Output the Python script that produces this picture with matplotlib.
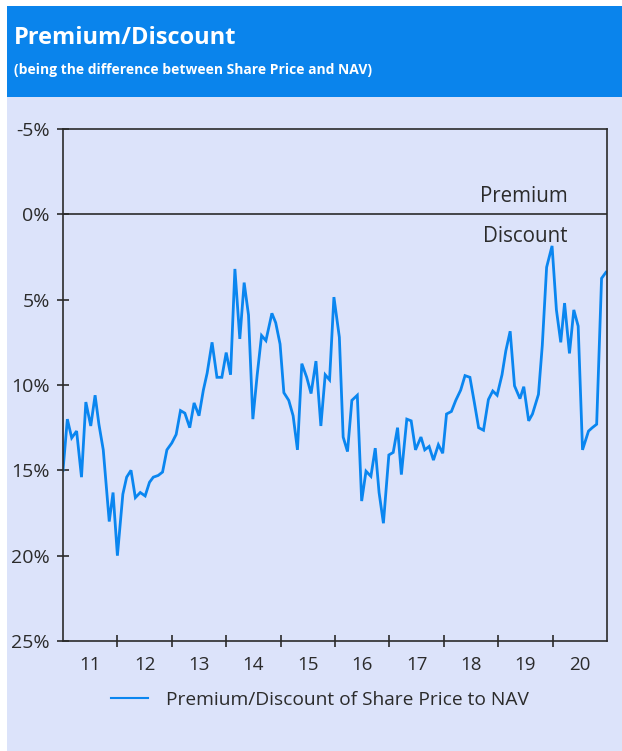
import matplotlib.pyplot as plt
from matplotlib.patches import Rectangle
from matplotlib.ticker import FixedLocator, NullFormatter

# decimal year of each point and the discount in % (positive = discount)
years = [2011.00, 2011.08, 2011.16, 2011.25, 2011.34, 2011.42, 2011.51, 2011.59, 2011.66, 2011.74,
         2011.85, 2011.92, 2012.00, 2012.10, 2012.17, 2012.25, 2012.33, 2012.42, 2012.51, 2012.59,
         2012.66, 2012.75, 2012.83, 2012.91, 2013.00, 2013.08, 2013.16, 2013.24, 2013.33, 2013.41,
         2013.50, 2013.58, 2013.65, 2013.74, 2013.83, 2013.92, 2014.00, 2014.08, 2014.16, 2014.25,
         2014.33, 2014.41, 2014.49, 2014.57, 2014.65, 2014.73, 2014.84, 2014.91, 2014.99, 2015.06,
         2015.15, 2015.23, 2015.31, 2015.39, 2015.48, 2015.56, 2015.65, 2015.74, 2015.82, 2015.90,
         2015.98, 2016.08, 2016.15, 2016.23, 2016.31, 2016.41, 2016.49, 2016.57, 2016.66, 2016.74,
         2016.81, 2016.89, 2016.99, 2017.07, 2017.15, 2017.22, 2017.32, 2017.40, 2017.48, 2017.58,
         2017.65, 2017.73, 2017.81, 2017.90, 2017.98, 2018.05, 2018.14, 2018.22, 2018.31, 2018.39,
         2018.48, 2018.56, 2018.64, 2018.73, 2018.82, 2018.90, 2018.98, 2019.07, 2019.14, 2019.22,
         2019.30, 2019.40, 2019.47, 2019.56, 2019.63, 2019.74, 2019.81, 2019.89, 2019.99, 2020.07,
         2020.15, 2020.22, 2020.31, 2020.39, 2020.47, 2020.55, 2020.66, 2020.73, 2020.81, 2020.90,
         2020.98]
discount = [15.0, 12.0, 13.1, 12.7, 15.4, 11.0, 12.4, 10.6, 12.3, 13.8,
            18.0, 16.3, 20.0, 16.4, 15.4, 15.0, 16.6, 16.3, 16.5, 15.7,
            15.4, 15.3, 15.1, 13.8, 13.4, 12.9, 11.5, 11.65, 12.5, 11.05,
            11.8, 10.3, 9.3, 7.5, 9.55, 9.55, 8.1, 9.4, 3.2, 7.3,
            4.0, 5.9, 12.0, 9.4, 7.1, 7.4, 5.8, 6.35, 7.6, 10.45,
            10.9, 11.8, 13.8, 8.75, 9.55, 10.5, 8.6, 12.4, 9.4, 9.7,
            4.85, 7.2, 13.05, 13.9, 10.9, 10.6, 16.8, 15.05, 15.35, 13.7,
            16.3, 18.1, 14.1, 13.95, 12.5, 15.25, 12.0, 12.1, 13.8, 13.05,
            13.8, 13.6, 14.4, 13.5, 14.0, 11.7, 11.55, 10.9, 10.3, 9.45,
            9.55, 11.0, 12.5, 12.65, 10.85, 10.35, 10.6, 9.4, 8.0, 6.85,
            10.05, 10.8, 10.1, 12.1, 11.7, 10.55, 7.7, 3.1, 1.85, 5.6,
            7.5, 5.2, 8.15, 5.6, 6.55, 13.8, 12.7, 12.5, 12.3, 3.75,
            3.4]

y_ticks = [-5, 0, 5, 10, 15, 20, 25]
year_labels = ["11", "12", "13", "14", "15", "16", "17", "18", "19", "20"]

blue = "#0A86F0"
panel = "#DCE3FA"
dark = "#2b2b2b"
font = "Open Sans"

plt.rcParams["font.family"] = font

fig = plt.figure(figsize=(6.22, 7.51), dpi=100)
fig.patch.set_facecolor("white")

# header band and panel (drawn behind the axes)
fig.patches.append(Rectangle((7 / 622, 1 - 97 / 751), 615 / 622, 91 / 751,
                             transform=fig.transFigure, facecolor="#0A84EC", edgecolor="none", zorder=-2))
fig.patches.append(Rectangle((7 / 622, 0.0), 615 / 622, 1 - 97 / 751,
                             transform=fig.transFigure, facecolor=panel, edgecolor="none", zorder=-2))

fig.text(14 / 622, 1 - 38 / 751, "Premium/Discount", color="white", fontsize=17,
         fontweight="bold", va="center", ha="left")
fig.text(14 / 622, 1 - 70 / 751, "(being the difference between Share Price and NAV)",
         color="white", fontsize=10, fontweight="bold", va="center", ha="left")

ax = fig.add_axes([63 / 622, 1 - 641 / 751, 544 / 622, 512 / 751])
ax.set_zorder(2)
ax.set_facecolor(panel)

line, = ax.plot(years, discount, color=blue, lw=2.0, solid_joinstyle="miter")
ax.axhline(0, color=dark, lw=1.2)

ax.set_ylim(25, -5)
ax.set_xlim(2011, 2021)

ax.set_yticks(y_ticks)
ax.set_yticklabels([f"{v}%" for v in y_ticks])

ax.xaxis.set_major_locator(FixedLocator([2012 + i for i in range(9)]))
ax.xaxis.set_major_formatter(NullFormatter())
ax.xaxis.set_minor_locator(FixedLocator([2011.5 + i for i in range(10)]))
ax.set_xticklabels(year_labels, minor=True)

ax.tick_params(axis="both", which="major", direction="inout", length=9, width=1.2,
               color=dark, labelsize=14, labelcolor=dark)
ax.tick_params(axis="y", pad=5)
ax.tick_params(axis="x", which="minor", length=0, pad=11, labelsize=13.5, labelcolor=dark)

for s in ax.spines.values():
    s.set_color(dark)
    s.set_linewidth(1.2)

ax.text(2020.27, -1.05, "Premium", ha="right", va="center", fontsize=14.8, color=dark)
ax.text(2020.28, 1.3, "Discount", ha="right", va="center", fontsize=14.8, color=dark)

leg = fig.legend([line], ["Premium/Discount of Share Price to NAV"], loc="center",
                 bbox_to_anchor=(320 / 622, 1 - 700 / 751), frameon=False, fontsize=13.8,
                 handlelength=1.9, handletextpad=0.95, labelcolor=dark)
leg.get_lines()[0].set_linewidth(1.5)

fig.savefig("out.png", dpi=100, facecolor=fig.get_facecolor())
